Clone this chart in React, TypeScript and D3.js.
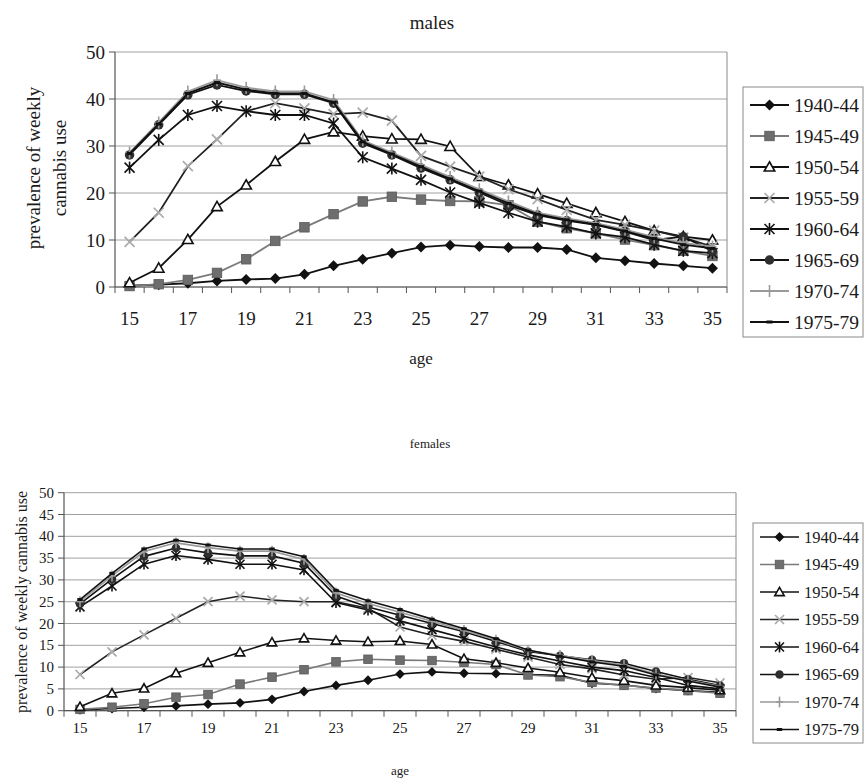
import React from "react";
import * as d3 from "d3";

const ages = [15, 16, 17, 18, 19, 20, 21, 22, 23, 24, 25, 26, 27, 28, 29, 30, 31, 32, 33, 34, 35];
const ageLabels = [15, 17, 19, 21, 23, 25, 27, 29, 31, 33, 35];
const cohorts = ["1940-44", "1945-49", "1950-54", "1955-59", "1960-64", "1965-69", "1970-74", "1975-79"];

const males1940 = [0.3, 0.5, 0.8, 1.3, 1.6, 1.8, 2.7, 4.5, 5.9, 7.2, 8.5, 8.9, 8.6, 8.4, 8.4, 8.0, 6.2, 5.6, 5.0, 4.5, 4.0];
const males1945 = [0.2, 0.6, 1.5, 3.0, 5.9, 9.8, 12.7, 15.5, 18.2, 19.2, 18.6, 18.3, 18.2, 17.4, 13.9, 12.5, 11.4, 10.1, 8.9, 7.7, 6.6];
const males1950 = [0.9, 4.0, 10.1, 17.1, 21.7, 26.7, 31.4, 33.0, 32.1, 31.5, 31.4, 29.9, 23.5, 21.7, 19.8, 17.8, 15.8, 13.9, 12.0, 10.7, 10.0];
const males1955 = [9.6, 15.8, 25.7, 31.4, 37.4, 39.1, 38.0, 36.8, 37.1, 35.4, 27.9, 25.6, 23.5, 20.8, 18.7, 16.4, 14.3, 13.2, 12.0, 10.5, 8.6];
const males1960 = [25.4, 31.3, 36.6, 38.5, 37.4, 36.6, 36.6, 34.8, 27.6, 25.2, 22.8, 20.1, 17.9, 15.8, 13.9, 12.8, 11.4, 10.6, 9.0, 7.7, 7.2];
const males1965 = [28.1, 34.5, 40.9, 43.0, 41.7, 41.0, 41.0, 39.1, 30.6, 28.1, 25.3, 22.8, 20.1, 17.4, 15.3, 14.1, 13.2, 11.8, 10.0, 10.7, 7.6];
const males1970 = [28.6, 35.0, 41.6, 44.0, 42.4, 41.6, 41.6, 39.8, 31.2, 28.6, 26.0, 23.4, 20.8, 18.2, 15.8, 14.6, 13.6, 12.2, 10.6, 9.4, 8.6];
const males1975 = [28.4, 34.7, 41.2, 43.5, 42.0, 41.2, 41.2, 39.3, 30.9, 28.3, 25.6, 23.0, 20.4, 17.8, 15.5, 14.3, 13.3, 11.9, 10.3, 9.0, 8.2];

const females1940 = [0.2, 0.5, 0.8, 1.1, 1.5, 1.8, 2.6, 4.4, 5.8, 7.0, 8.4, 8.9, 8.6, 8.5, 8.3, 8.1, 6.3, 5.9, 5.1, 4.6, 4.2];
const females1945 = [0.3, 0.8, 1.6, 3.1, 3.7, 6.1, 7.7, 9.4, 11.2, 11.8, 11.6, 11.5, 11.1, 10.6, 8.2, 7.8, 6.5, 5.8, 5.2, 4.6, 4.0];
const females1950 = [0.9, 4.0, 5.1, 8.6, 11.0, 13.4, 15.7, 16.6, 16.1, 15.8, 16.0, 15.2, 11.9, 11.0, 9.8, 8.8, 7.6, 6.9, 5.8, 5.3, 4.7];
const females1955 = [8.3, 13.5, 17.4, 21.2, 25.0, 26.3, 25.4, 25.0, 25.0, 23.5, 19.2, 17.3, 15.9, 14.1, 12.3, 10.6, 9.6, 8.2, 7.2, 7.6, 6.4];
const females1960 = [23.8, 28.6, 33.6, 35.6, 34.7, 33.6, 33.6, 32.3, 24.8, 23.1, 20.6, 18.6, 16.6, 14.6, 12.8, 11.4, 10.0, 9.2, 7.6, 5.8, 5.0];
const females1965 = [24.5, 30.2, 35.4, 37.3, 36.2, 35.5, 35.5, 33.8, 26.3, 23.8, 21.9, 20.0, 18.1, 15.9, 13.6, 12.6, 11.7, 10.9, 9.0, 7.2, 5.8];
const females1970 = [25.0, 30.9, 36.5, 38.5, 37.4, 36.6, 36.6, 34.7, 27.0, 24.6, 22.6, 20.5, 18.4, 16.2, 13.8, 12.7, 11.5, 10.5, 8.4, 7.0, 5.6];
const females1975 = [25.5, 31.5, 37.1, 39.1, 38.0, 37.1, 37.1, 35.3, 27.6, 25.2, 23.2, 21.0, 18.8, 16.5, 13.9, 12.5, 11.2, 10.2, 8.2, 6.8, 5.4];

const malesSeries = [males1940, males1945, males1950, males1955, males1960, males1965, males1970, males1975];
const femalesSeries = [females1940, females1945, females1950, females1955, females1960, females1965, females1970, females1975];

const maleTicks = [0, 10, 20, 30, 40, 50];
const femaleTicks = [0, 5, 10, 15, 20, 25, 30, 35, 40, 45, 50];

type MarkerKind = "diamond" | "square" | "triangle" | "x" | "asterisk" | "circle" | "plus" | "dash";
const markerKinds: MarkerKind[] = ["diamond", "square", "triangle", "x", "asterisk", "circle", "plus", "dash"];
const lineColors = ["#111", "#7a7a7a", "#111", "#222", "#111", "#111", "#9a9a9a", "#111"];

const FONT = "'Liberation Serif', 'DejaVu Serif', serif";

function Marker({ kind, cx, cy, s }: { kind: MarkerKind; cx: number; cy: number; s: number }) {
  const h = s / 2;
  switch (kind) {
    case "diamond":
      return <polygon points={`${cx},${cy - h * 1.1} ${cx + h * 1.1},${cy} ${cx},${cy + h * 1.1} ${cx - h * 1.1},${cy}`} fill="#111" />;
    case "square":
      return <rect x={cx - h * 0.95} y={cy - h * 0.95} width={s * 0.95} height={s * 0.95} fill="#6e6e6e" stroke="#5a5a5a" strokeWidth={0.8} />;
    case "triangle":
      return <polygon points={`${cx},${cy - h * 1.05} ${cx + h * 1.05},${cy + h * 0.8} ${cx - h * 1.05},${cy + h * 0.8}`} fill="#fff" stroke="#111" strokeWidth={1.6} />;
    case "x":
      return (
        <g stroke="#ababab" strokeWidth={1.7}>
          <line x1={cx - h} y1={cy - h} x2={cx + h} y2={cy + h} />
          <line x1={cx - h} y1={cy + h} x2={cx + h} y2={cy - h} />
        </g>
      );
    case "asterisk":
      return (
        <g stroke="#111" strokeWidth={1.6}>
          <line x1={cx - h} y1={cy - h} x2={cx + h} y2={cy + h} />
          <line x1={cx - h} y1={cy + h} x2={cx + h} y2={cy - h} />
          <line x1={cx} y1={cy - h * 1.2} x2={cx} y2={cy + h * 1.2} />
        </g>
      );
    case "circle":
      return <circle cx={cx} cy={cy} r={h * 0.95} fill="#2e2e2e" />;
    case "plus":
      return (
        <g stroke="#9a9a9a" strokeWidth={1.6}>
          <line x1={cx} y1={cy - h * 1.2} x2={cx} y2={cy + h * 1.2} />
          <line x1={cx - h * 0.8} y1={cy} x2={cx + h * 0.8} y2={cy} />
        </g>
      );
    case "dash":
      return <line x1={cx - h * 0.6} y1={cy} x2={cx + h * 0.6} y2={cy} stroke="#111" strokeWidth={3} />;
  }
  return null;
}

interface PanelProps {
  series: number[][];
  ticks: number[];
  left: number; right: number; top: number; bottom: number;
  title: string; titleX: number; titleY: number; titleSize: number;
  tickSize: number; xLabelY: number;
  ageY: number; ageSize: number;
  yTitleLines: string[]; yTitleXs: number[]; yTitleY: number; yTitleSize: number;
  legX: number; legY: number; legW: number; legH: number; legRow0: number; legStep: number; legSize: number;
  markerSize: number; lineWidth: number;
}

function Panel(p: PanelProps) {
  const x = d3.scaleBand<number>().domain(ages).range([p.left, p.right]).paddingInner(0).paddingOuter(0);
  const y = d3.scaleLinear().domain([0, 50]).range([p.bottom, p.top]);
  const cx = (a: number) => (x(a) as number) + x.bandwidth() / 2;
  const line = d3.line<number>().x((_, i) => cx(ages[i])).y((v) => y(v));
  const boundaries = ages.map((a) => x(a) as number).concat([p.right]);
  return (
    <g fontFamily={FONT} fill="#1a1a1a">
      <text x={p.titleX} y={p.titleY} fontSize={p.titleSize} textAnchor="middle" dominantBaseline="central">{p.title}</text>
      {p.ticks.map((t) => (
        <line key={"g" + t} x1={p.left} x2={p.right} y1={y(t)} y2={y(t)} stroke="#a0a0a0" strokeWidth={1} />
      ))}
      <line x1={p.right} x2={p.right} y1={p.top} y2={p.bottom} stroke="#8a8a8a" strokeWidth={1} />
      <line x1={p.left} x2={p.left} y1={p.top} y2={p.bottom} stroke="#555" strokeWidth={1.2} />
      {p.ticks.map((t) => (
        <g key={"t" + t}>
          <line x1={p.left - 6} x2={p.left} y1={y(t)} y2={y(t)} stroke="#555" strokeWidth={1} />
          <text x={p.left - 10} y={y(t)} fontSize={p.tickSize} textAnchor="end" dominantBaseline="central">{t}</text>
        </g>
      ))}
      <line x1={p.left} x2={p.right} y1={p.bottom} y2={p.bottom} stroke="#555" strokeWidth={1.2} />
      {boundaries.map((b, i) => (
        <line key={"b" + i} x1={b} x2={b} y1={p.bottom} y2={p.bottom + 6} stroke="#555" strokeWidth={1} />
      ))}
      {ageLabels.map((a) => (
        <text key={"a" + a} x={cx(a)} y={p.xLabelY} fontSize={p.tickSize} textAnchor="middle" dominantBaseline="central">{a}</text>
      ))}
      <text x={(p.left + p.right) / 2} y={p.ageY} fontSize={p.ageSize} textAnchor="middle" dominantBaseline="central">age</text>
      {p.yTitleLines.map((l, i) => (
        <text key={"yt" + i} transform={`translate(${p.yTitleXs[i]},${p.yTitleY}) rotate(-90)`} fontSize={p.yTitleSize} textAnchor="middle" dominantBaseline="central">{l}</text>
      ))}
      {p.series.map((vals, si) => (
        <g key={"s" + si}>
          <path d={line(vals) || ""} fill="none" stroke={lineColors[si]} strokeWidth={p.lineWidth} />
          {vals.map((v, i) => (
            <Marker key={i} kind={markerKinds[si]} cx={cx(ages[i])} cy={y(v)} s={p.markerSize} />
          ))}
        </g>
      ))}
      <rect x={p.legX} y={p.legY} width={p.legW} height={p.legH} fill="#fff" stroke="#8a8a8a" strokeWidth={1} />
      {cohorts.map((c, i) => {
        const ly = p.legRow0 + i * p.legStep;
        const lx1 = p.legX + 7;
        const lx2 = p.legX + 46;
        return (
          <g key={"l" + c}>
            <line x1={lx1} x2={lx2} y1={ly} y2={ly} stroke={lineColors[i]} strokeWidth={p.lineWidth} />
            <Marker kind={markerKinds[i]} cx={(lx1 + lx2) / 2} cy={ly} s={p.markerSize} />
            <text x={lx2 + 5} y={ly} fontSize={p.legSize} dominantBaseline="central">{c}</text>
          </g>
        );
      })}
    </g>
  );
}

export default function App() {
  return (
    <svg width={864} height={780} style={{ position: "absolute", left: 0, top: 0, background: "#fff" }}>
      <rect x={0} y={0} width={864} height={780} fill="#fff" />
      <Panel
        series={malesSeries} ticks={maleTicks}
        left={115} right={727} top={52} bottom={287}
        title="males" titleX={432} titleY={22} titleSize={19}
        tickSize={19} xLabelY={318}
        ageY={358} ageSize={17}
        yTitleLines={["prevalence of weekly", "cannabis use"]} yTitleXs={[33, 59]} yTitleY={168} yTitleSize={19}
        legX={743} legY={87} legW={120} legH={250} legRow0={105} legStep={31} legSize={19.5}
        markerSize={10} lineWidth={1.8}
      />
      <Panel
        series={femalesSeries} ticks={femaleTicks}
        left={64} right={736} top={492.7} bottom={710.7}
        title="females" titleX={430} titleY={443} titleSize={13}
        tickSize={15} xLabelY={728}
        ageY={770} ageSize={13}
        yTitleLines={["prevalence of weekly cannabis use"]} yTitleXs={[21]} yTitleY={602} yTitleSize={16}
        legX={753} legY={523} legW={110} legH={220} legRow0={537} legStep={27.5} legSize={16.5}
        markerSize={9} lineWidth={1.6}
      />
    </svg>
  );
}
